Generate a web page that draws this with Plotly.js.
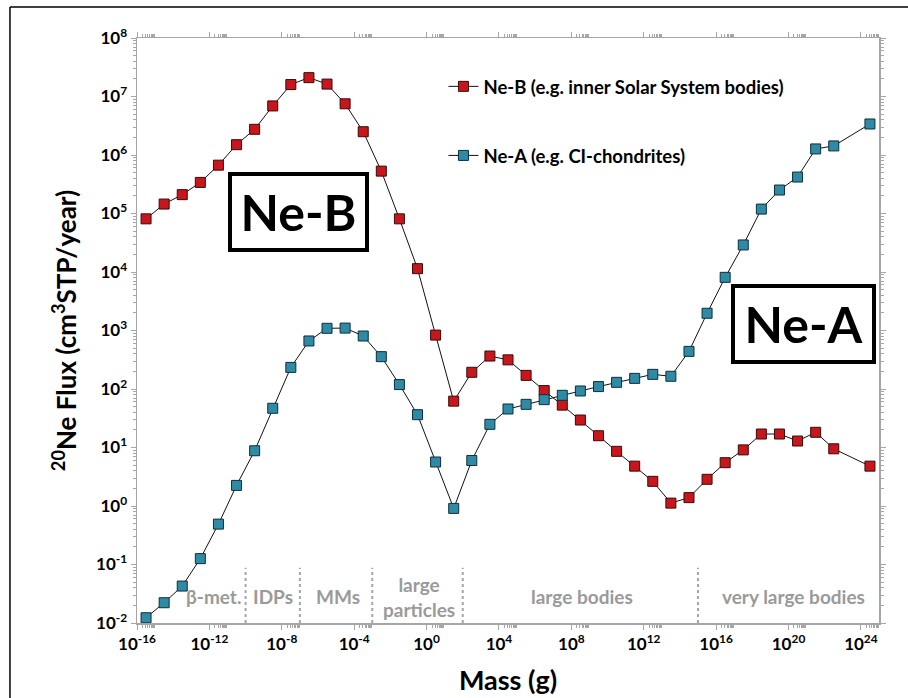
<!DOCTYPE html>
<html>
<head>
<meta charset="utf-8">
<script src="https://cdn.plot.ly/plotly-3.0.1.min.js"></script>
<style>html,body{margin:0;padding:0;background:#fff;}#chart{width:908px;height:698px;}</style>
</head>
<body>
<div id="chart"></div>
<script>
// Mass bin centres, as log10(mass in g), one per decade
const massLogNeB = [-15.5,-14.5,-13.5,-12.5,-11.5,-10.5,-9.5,-8.5,-7.5,-6.5,-5.5,-4.5,-3.5,-2.5,-1.5,-0.5,
  0.5,1.5,2.5,3.5,4.5,5.5,6.5,7.5,8.5,9.5,10.5,11.5,12.5,13.5,14.5,15.5,16.5,17.5,18.5,19.5,20.5,21.5,22.5,24.5];
const massLogNeA = massLogNeB.slice();
// 20Ne flux (cm3 STP / year)
const fluxNeB = [8.1e4,1.45e5,2.1e5,3.4e5,6.7e5,1.5e6,2.75e6,6.9e6,1.6e7,2.1e7,1.63e7,7.5e6,2.5e6,5.3e5,8.1e4,1.14e4,
  835,62,193,366,315,171,94,53,29.5,15.9,8.6,4.8,2.64,1.12,1.39,2.86,5.5,9.1,17,17,12.9,18.2,9.5,4.8];
const fluxNeA = [0.0123,0.0222,0.0428,0.126,0.49,2.25,8.8,46.8,234,662,1090,1100,805,357,119,36.4,
  5.65,0.91,6.0,24.9,45.5,54.7,65.8,78,92.5,110,130,152,178,165,440,1970,8100,2.9e4,1.19e5,2.52e5,4.2e5,1.27e6,1.43e6,3.39e6];
const seriesNames = ['Ne-B (e.g. inner Solar System bodies)', 'Ne-A (e.g. CI-chondrites)'];

// Mass-range boundaries (g) and labels
const boundaries = [1e-10, 1e-7, 1e-3, 1e2, 1e15];
const regionLabels = ['β-met.', 'IDPs', 'MMs', 'large<br>particles', 'large bodies', 'very large bodies'];
const regionCentersLog = [-11.8, -8.5, -4.9, -0.4, 8.6, 20.3];

// Tick labels
const xTickExp = [-16,-12,-8,-4,0,4,8,12,16,20,24];
const xTickText = ['10<sup>-16</sup>','10<sup>-12</sup>','10<sup>-8</sup>','10<sup>-4</sup>','10<sup>0</sup>','10<sup>4</sup>','10<sup>8</sup>','10<sup>12</sup>','10<sup>16</sup>','10<sup>20</sup>','10<sup>24</sup>'];
const yTickExp = [-2,-1,0,1,2,3,4,5,6,7,8];
const yTickText = ['10<sup>-2</sup>','10<sup>-1</sup>','10<sup>0</sup>','10<sup>1</sup>','10<sup>2</sup>','10<sup>3</sup>','10<sup>4</sup>','10<sup>5</sup>','10<sup>6</sup>','10<sup>7</sup>','10<sup>8</sup>'];

const FONT = 'Lato, "Open Sans", sans-serif';
const GRAY = '#a6a6a6';
const LABELGRAY = '#9a9a9a';
const p10 = e => Math.pow(10, e);
const b = t => '<b>' + t + '</b>';

const xMinor = [];
xTickExp.forEach(e => { for (let m = 2; m <= 9; m++) { const v = m * p10(e); if (Math.log10(v) < 25) xMinor.push(v); } });
const yMinor = [];
yTickExp.forEach(e => { for (let m = 2; m <= 9; m++) { const v = m * p10(e); if (Math.log10(v) < 8) yMinor.push(v); } });

const traces = [
  {x: massLogNeB.map(p10), y: fluxNeB, name: b(seriesNames[0]), mode: 'lines+markers', legendgroup: 'b',
   line: {color: '#111', width: 1}, marker: {symbol: 'square', size: 10, color: '#c8161d', line: {color: '#3a0a0a', width: 1}}},
  {x: massLogNeA.map(p10), y: fluxNeA, name: b(seriesNames[1]), mode: 'lines+markers', legendgroup: 'a',
   line: {color: '#111', width: 1}, marker: {symbol: 'square', size: 10, color: '#2f8aa6', line: {color: '#0d2f3a', width: 1}}}
];
boundaries.forEach(v => traces.push({x: [v, v], y: [0.01, 0.088], mode: 'lines', showlegend: false, hoverinfo: 'skip',
  line: {color: GRAY, width: 2, dash: 'dot'}}));

const annotations = regionLabels.map((t, i) => ({
  x: regionCentersLog[i], y: -1.55, xref: 'x', yref: 'y', xanchor: 'center', yanchor: 'middle', text: b(t), showarrow: false,
  font: {family: FONT, size: 19, color: LABELGRAY, weight: 700}, align: 'center'
}));
annotations.push({x: 0.2177, y: 0.703, xref: 'paper', yref: 'paper', xanchor: 'center', yanchor: 'middle', text: b('Ne-B'), showarrow: false,
  font: {family: FONT, size: 50, color: '#000', weight: 700}, width: 131, height: 70, bordercolor: '#000', borderwidth: 4, borderpad: 1, bgcolor: '#fff'});
annotations.push({x: 0.898, y: 0.511, xref: 'paper', yref: 'paper', xanchor: 'center', yanchor: 'middle', text: b('Ne-A'), showarrow: false,
  font: {family: FONT, size: 50, color: '#000', weight: 700}, width: 135, height: 70, bordercolor: '#000', borderwidth: 4, borderpad: 1, bgcolor: '#fff'});

const layout = {
  width: 908, height: 698,
  margin: {l: 137, r: 29, t: 38, b: 75},
  paper_bgcolor: '#fff', plot_bgcolor: '#fff',
  font: {family: FONT, color: '#000'},
  showlegend: true,
  legend: {x: 0.413, y: 0.949, xanchor: 'left', yanchor: 'top', tracegroupgap: 42, bgcolor: 'rgba(0,0,0,0)',
    font: {family: FONT, size: 18.5, color: '#000', weight: 700}},
  xaxis: {type: 'log', range: [-16, 25], tickmode: 'array', tickvals: xTickExp.map(p10), ticktext: xTickText.map(b),
    showgrid: false, zeroline: false, showline: true, linecolor: GRAY, linewidth: 1.5, mirror: 'allticks',
    ticks: 'outside', ticklen: 5, tickcolor: GRAY, tickfont: {family: FONT, size: 17, weight: 700},
    minor: {tickmode: 'array', tickvals: xMinor, ticks: 'outside', ticklen: 3, tickcolor: GRAY, showgrid: false},
    title: {text: b('Mass (g)'), font: {family: FONT, size: 27, weight: 700}, standoff: 18}},
  yaxis: {type: 'log', range: [-2, 8], tickmode: 'array', tickvals: yTickExp.map(p10), ticktext: yTickText.map(b),
    showgrid: false, zeroline: false, showline: true, linecolor: GRAY, linewidth: 1.5, mirror: 'allticks',
    ticks: 'outside', ticklen: 5, tickcolor: GRAY, tickfont: {family: FONT, size: 17, weight: 700},
    minor: {tickmode: 'array', tickvals: yMinor, ticks: 'outside', ticklen: 3, tickcolor: GRAY, showgrid: false},
    title: {text: b('<sup>20</sup>Ne Flux (cm<sup>3</sup>STP/year)'), font: {family: FONT, size: 26, weight: 700}, standoff: 12}},
  annotations: annotations,
  shapes: [
    {type: 'line', xref: 'paper', yref: 'paper', x0: -0.1712, x1: -0.1712, y0: -0.2, y1: 1.053, line: {color: '#000', width: 1.5}},
    {type: 'line', xref: 'paper', yref: 'paper', x0: -0.1712, x1: 1.1, y0: 1.053, y1: 1.053, line: {color: '#000', width: 1.5}}
  ]
};

Plotly.newPlot('chart', traces, layout, {displayModeBar: false, staticPlot: true});
</script>
</body>
</html>
